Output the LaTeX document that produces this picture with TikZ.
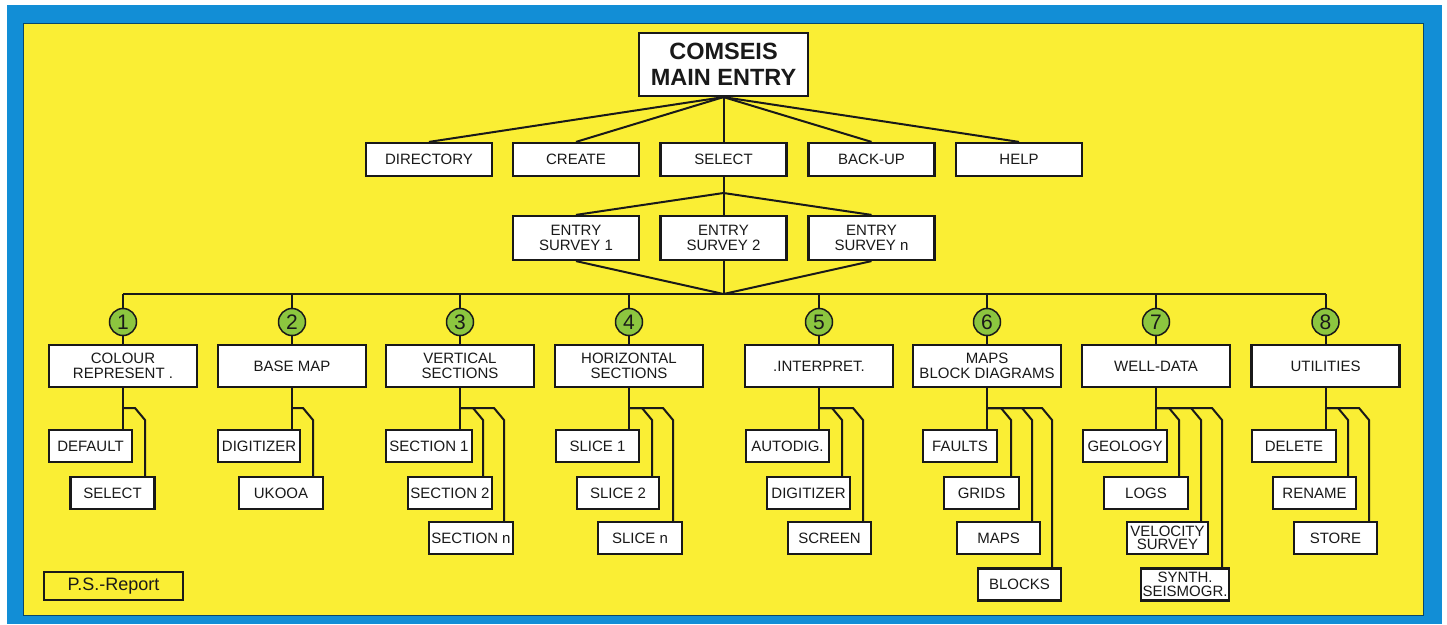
\documentclass[tikz,border=0pt]{standalone}
\usepackage{fontspec}
\setmainfont{Liberation Sans}
\begin{document}
\begin{tikzpicture}[x=1pt,y=-1pt,
        wire/.style={draw=ink,line width=2pt},
        box/.style={draw=ink,fill=white,line width=2.2pt,text=ink,align=center,inner sep=0pt,
            font=\fontsize{15}{14.5}\selectfont},
        topbox/.style={box,minimum width=126pt,minimum height=33pt},
        midbox/.style={box,minimum width=148pt,minimum height=42pt},
        subbox/.style={box,minimum height=32pt,font=\fontsize{15}{13.5}\selectfont},
        num/.style={circle,draw=ink,fill=leaf,line width=1.5pt,minimum size=27pt,inner sep=0pt,
            text=ink,font=\fontsize{21}{21}\selectfont}]
    \definecolor{sky}{RGB}{18,142,214}
    \definecolor{lemon}{RGB}{250,238,52}
    \definecolor{leaf}{RGB}{140,198,63}
    \definecolor{ink}{RGB}{25,25,25}

    \useasboundingbox (0,0) rectangle (1447,624);
    \fill [white] (0,0) rectangle (1447,624);
    \fill [sky] (7,5) rectangle (1442,624);
    \fill [lemon] (23,23) rectangle (1423,615);
    \draw [sky!50!black,line width=0.6pt] (23,23) rectangle (1423,615);

    \node [box,minimum width=169pt,minimum height=63pt,font=\bfseries\fontsize{23.5}{26}\selectfont]
        (main) at (723.5,64.5) {COMSEIS\\MAIN ENTRY};
    \foreach \x/\n/\s in {429/dir/DIRECTORY,576/cre/CREATE,723.5/sel/SELECT,871.5/bak/BACK-UP,1019/hlp/HELP} {
        \node [topbox] (\n) at (\x,159.5) {\s};
        \draw [wire] (main.south) -- (\n.north);
    }

    \coordinate (fork) at (723.5,193);
    \coordinate (join) at (723.5,294);
    \draw [wire] (sel.south) -- (fork);
    \foreach \x/\n/\s in {576/en1/1,723.5/en2/2,871.5/enn/n} {
        \node [box,minimum width=126pt,minimum height=44pt] (\n) at (\x,238) {ENTRY\\SURVEY \s};
        \draw [wire] (fork) -- (\n.north);
        \draw [wire] (\n.south) -- (join);
    }

    \foreach \i/\x/\s in {1/123/{COLOUR\\REPRESENT .},2/292/BASE MAP,3/460/{VERTICAL\\SECTIONS},
            4/629/{HORIZONTAL\\SECTIONS},5/819/.INTERPRET.,6/987/{MAPS\\BLOCK DIAGRAMS},
            7/1156/WELL-DATA,8/1325.5/UTILITIES} {
        \node [num] (c\i) at (\x,322) {\i};
        \node [midbox] (m\i) at (\x,366) {\s};
        \draw [wire] (c\i.north) -- (c\i.north |- join);
        \draw [wire] (c\i.south) -- (m\i.north);
    }
    \draw [wire] (c1.north |- join) -- (c8.north |- join);

    \foreach \i/\x/\w/\s in {1/90.5/83/DEFAULT,2/259/82/DIGITIZER,3/429/86/SECTION 1,4/597.5/83/SLICE 1,
            5/787.5/83/AUTODIG.,6/960/74/FAULTS,7/1125/84/GEOLOGY,8/1294/84/DELETE} {
        \node [subbox,minimum width=\w pt] (s\i a) at (\x,446) {\s};
        \draw [wire] (m\i.south) -- (s\i a.north -| m\i.south);
    }

    \foreach \i/\k/\x/\y/\v/\w/\s in {1/b/112.5/493/145/84/SELECT,2/b/281/493/313/84/UKOOA,
            3/b/450/493/483/84/SECTION 2,3/c/471/538/504/84/SECTION n,
            4/b/618/493/652/82/SLICE 2,4/c/640/538/673/84/SLICE n,
            5/b/808.5/493/842/83/DIGITIZER,5/c/829.5/538/863/83/SCREEN,
            6/b/981.5/493/1011/75/GRIDS,6/c/998.5/538/1032/83/MAPS,6/d/1019.5/584.5/1052/83/BLOCKS,
            7/b/1146/493/1179/84/LOGS,7/c/1167.5/538/1201/81/{VELOCITY\\SURVEY},
            7/d/1185/584.5/1222/88/{SYNTH.\\SEISMOGR.},
            8/b/1314.5/493/1348/83/RENAME,8/c/1335.5/538/1369/83/STORE} {
        \node [subbox,minimum width=\w pt] (s\i\k) at (\x,\y) {\s};
        \draw [wire] (m\i.south |- 0,408) -- (\v-10,408) -- (\v,420) -- (\v,420 |- s\i\k.north);
    }

    \node [draw=ink,line width=1.2pt,minimum width=139pt,minimum height=28pt,text=ink,
        font=\fontsize{18}{18}\selectfont] (rep) at (113.5,586) {P.S.-Report};
\end{tikzpicture}
\end{document}
